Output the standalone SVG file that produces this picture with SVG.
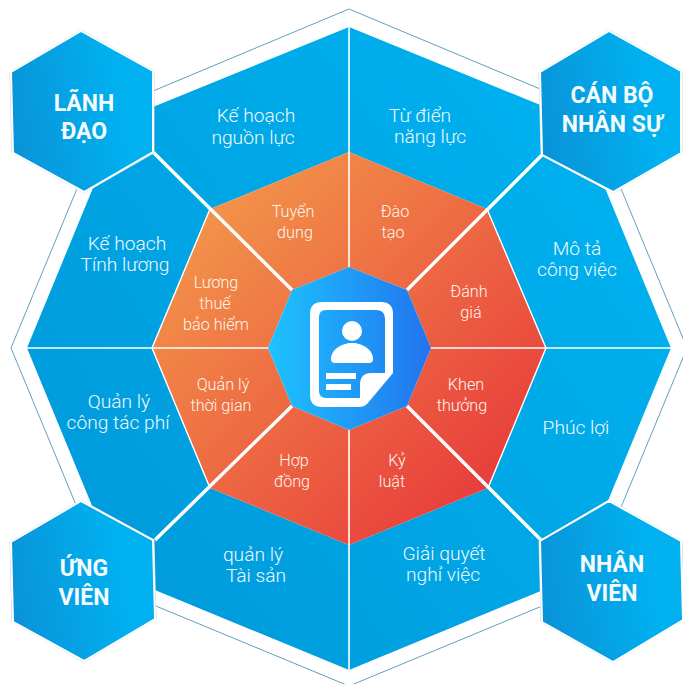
<svg xmlns="http://www.w3.org/2000/svg" width="683" height="684" viewBox="0 0 683 684">
<style>
text{font-family:Roboto,"Noto Sans",sans-serif;text-anchor:middle}
.b{fill:url(#gb)}
.o{fill:url(#go)}
.tb{font-size:19.2px;font-weight:300;fill:#f0faff}
.to{font-size:16.2px;font-weight:300;fill:#fff6ee}
.th{font-size:23px;font-weight:700;fill:#f4fbff}
.hex{fill:url(#gh);stroke:#fff;stroke-width:2}
.hexo{fill:none;stroke:#c9d3d8;stroke-width:1}
.ax{stroke:#fff;stroke-width:1.6;fill:none}
.dg{stroke:#fff;stroke-width:3.4;fill:none}
.edge{stroke:#fff;stroke-width:1.4;fill:none}
</style>
<defs>
<linearGradient id="gb" gradientUnits="userSpaceOnUse" x1="60" y1="560" x2="640" y2="130"><stop offset="0" stop-color="#009adb"/><stop offset="1" stop-color="#00b2f0"/></linearGradient>
<linearGradient id="go" gradientUnits="userSpaceOnUse" x1="215" y1="215" x2="485" y2="485"><stop offset="0" stop-color="#f29149"/><stop offset="1" stop-color="#e83f3c"/></linearGradient>
<linearGradient id="gc" gradientUnits="userSpaceOnUse" x1="268" y1="348" x2="431" y2="348"><stop offset="0" stop-color="#1dc3ff"/><stop offset="1" stop-color="#2274ee"/></linearGradient>
<linearGradient id="gh" x1="0" y1="0.6" x2="1" y2="0.4"><stop offset="0" stop-color="#0a93d8"/><stop offset="0.75" stop-color="#00b0ef"/></linearGradient>
</defs>
<polygon id="outer-ring" points="349,9 588,109 687,348 588,587 349,686 110,587 11,348 110,109" fill="#fff" stroke="#5f9fbf" stroke-width="1"/>
<g id="s-ke-hoach-nguon-luc"><polygon class="b" points="349,27 121,120 210,209 349,152"/><text class="tb" x="256" y="122">Kế hoạch</text><text class="tb" x="253" y="144">nguồn lực</text></g>
<g id="s-tu-dien"><polygon class="b" points="349,27 577,120 487,209 349,152"/><text class="tb" x="420" y="122">Từ điển</text><text class="tb" x="430" y="143">năng lực</text></g>
<g id="s-mo-ta"><polygon class="b" points="577,120 671,348 546,348 487,209"/><text class="tb" x="577" y="255">Mô tả</text><text class="tb" x="577" y="276">công việc</text></g>
<g id="s-phuc-loi"><polygon class="b" points="671,348 577,576 488,488 546,348"/><text class="tb" x="576" y="434">Phúc lợi</text></g>
<g id="s-giai-quyet"><polygon class="b" points="577,576 349,670 349,545 488,488"/><text class="tb" x="444" y="560">Giải quyết</text><text class="tb" x="443" y="581">nghỉ việc</text></g>
<g id="s-quan-ly-tai-san"><polygon class="b" points="349,670 121,576 210,488 349,545"/><text class="tb" x="253" y="561">quản lý</text><text class="tb" x="256" y="582">Tài sản</text></g>
<g id="s-cong-tac-phi"><polygon class="b" points="121,576 27,348 152,348 210,488"/><text class="tb" x="119" y="408">Quản lý</text><text class="tb" x="118" y="429">công tác phí</text></g>
<g id="s-tinh-luong"><polygon class="b" points="27,348 121,120 210,209 152,348"/><text class="tb" x="127" y="250">Kế hoạch</text><text class="tb" x="125" y="271">Tính lương</text></g>
<g id="s-tuyen-dung"><polygon class="o" points="349,152 210,209 292,290 349,267"/><text class="to" x="293" y="217">Tuyển</text><text class="to" x="295" y="238">dụng</text></g>
<g id="s-dao-tao"><polygon class="o" points="349,152 487,209 407,290 349,267"/><text class="to" x="395" y="217">Đào</text><text class="to" x="393" y="238">tạo</text></g>
<g id="s-danh-gia"><polygon class="o" points="487,209 546,348 431,348 407,290"/><text class="to" x="469" y="297">Đánh</text><text class="to" x="471" y="318">giá</text></g>
<g id="s-khen-thuong"><polygon class="o" points="546,348 488,488 407,406 431,348"/><text class="to" x="466" y="390">Khen</text><text class="to" x="462" y="411">thưởng</text></g>
<g id="s-ky-luat"><polygon class="o" points="488,488 349,545 349,430 407,406"/><text class="to" x="397" y="466">Kỷ</text><text class="to" x="392" y="487">luật</text></g>
<g id="s-hop-dong"><polygon class="o" points="349,545 210,488 292,406 349,430"/><text class="to" x="294" y="466">Hợp</text><text class="to" x="292" y="487">đồng</text></g>
<g id="s-thoi-gian"><polygon class="o" points="210,488 152,348 268,348 292,406"/><text class="to" x="223" y="390">Quản lý</text><text class="to" x="221" y="411">thời gian</text></g>
<g id="s-luong-thue"><polygon class="o" points="152,348 210,209 292,290 268,348"/><text class="to" x="216" y="288">Lương</text><text class="to" x="215" y="309">thuế</text><text class="to" x="216" y="330">bảo hiểm</text></g>
<g id="connectors">
<path class="ax" d="M349,27V267M349,430V670M27,348H268M431,348H671"/>
<path class="dg" d="M292,290L153,152M407,290L542,155M407,406L542,541M292,406L155,540"/>
<path class="edge" d="M210,209L152,348L210,488M487,209L546,348L488,488"/>
</g>
<g id="center">
<polygon points="349,267 407,290 431,348 407,406 349,430 292,406 268,348 292,290" fill="url(#gc)"/>
<path fill="#fff" d="M322,302H381Q393,302 393,314V373L367,404Q364,407 359,407H322Q310,407 310,395V314Q310,302 322,302Z"/>
<path fill="url(#gc)" d="M326,310H376Q385,310 385,319V373H371Q360,373 360,385V398H326Q319,398 319,391V317Q319,310 326,310Z"/>
<circle cx="352" cy="331" r="10" fill="#fff"/>
<path fill="#fff" d="M331,359C331,350 341,343 352,343C363,343 373,350 373,359Q373,363 369,363H335Q331,363 331,359Z"/>
<rect x="326" y="373" width="30" height="6" fill="#fff"/>
<rect x="326" y="384" width="25" height="6" fill="#fff"/>
</g>
<g id="hex-lanh-dao"><polygon class="hexo" points="81,30 154,71 154,153 84,193 12,153 10,72"/><polygon class="hex" points="81,31 153,71 153,152 84,192 13,153 11,72"/><text class="th" x="84" y="111">LÃNH</text><text class="th" x="84" y="139">ĐẠO</text></g>
<g id="hex-can-bo"><polygon class="hexo" points="609,30 682,71 682,153 613,193 541,155 539,72"/><polygon class="hex" points="609,31 681,71 681,153 613,192 542,155 540,72"/><text class="th" x="612" y="103">CÁN BỘ</text><text class="th" x="612" y="132">NHÂN SỰ</text></g>
<g id="hex-ung-vien"><polygon class="hexo" points="81,500 154,540 156,619 84,662 12,622 10,542"/><polygon class="hex" points="81,501 153,540 155,619 84,661 13,622 11,542"/><text class="th" x="84" y="576">ỨNG</text><text class="th" x="84" y="605">VIÊN</text></g>
<g id="hex-nhan-vien"><polygon class="hexo" points="609,500 682,541 684,620 613,663 541,622 539,541"/><polygon class="hex" points="609,501 681,541 683,620 613,662 542,622 540,541"/><text class="th" x="612" y="572">NHÂN</text><text class="th" x="612" y="601">VIÊN</text></g>
</svg>
